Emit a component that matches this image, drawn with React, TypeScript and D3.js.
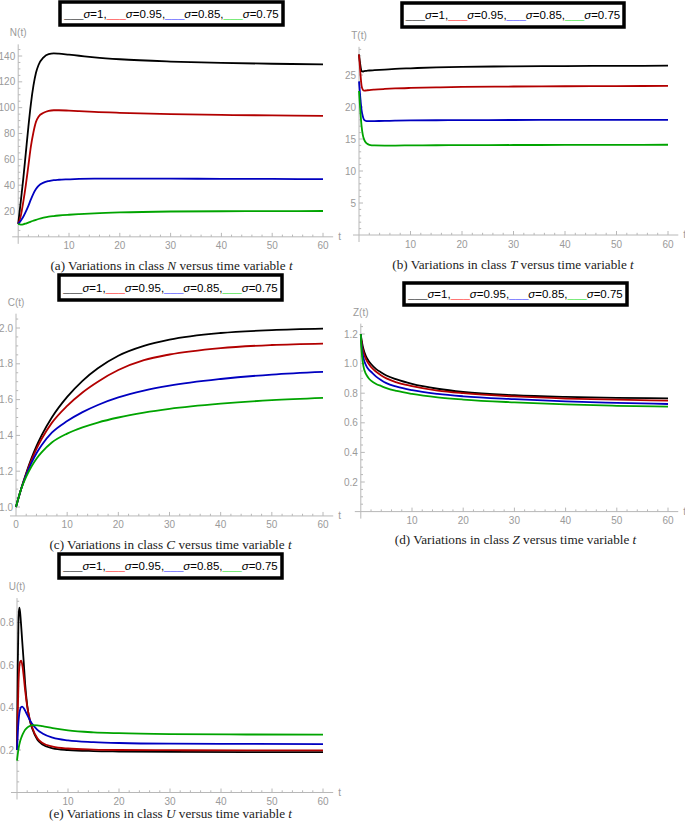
import React from 'react';
import * as d3 from 'd3';

const SIGMAS = ['1', '0.95', '0.85', '0.75'];
const LINE_COLORS = ['#000000', '#b20000', '#0000c0', '#00a400'];
const LEGEND_COLORS = ['#4a4a4a', '#ff5050', '#6464ff', '#55e655'];
const X_MAJOR = [10, 20, 30, 40, 50, 60];

// (a) N(t)
const T_N = [0, 0.5, 1, 1.5, 2, 2.5, 3, 3.5, 4, 5, 6, 7, 8, 10, 12, 15, 20, 30, 40, 50, 60];
const N_1 = [10, 27, 45, 65, 85, 103, 117, 127, 133, 139, 141.5, 142, 141.8, 141, 140.2, 139, 137.5, 135.7, 134.6, 134, 133.5];
const N_095 = [10, 16, 27, 40, 55, 70, 81, 89, 93, 96, 97.5, 98, 98, 97.7, 97.3, 96.7, 96, 95, 94.4, 94, 93.7];
const N_085 = [10, 12.5, 15.5, 19.5, 24, 29, 33.5, 37, 39.5, 42, 43.2, 43.9, 44.2, 44.5, 44.8, 45, 45, 45, 44.9, 44.8, 44.7];
const N_075 = [10, 9.5, 9.7, 10.3, 11, 11.8, 12.5, 13.2, 13.8, 14.8, 15.6, 16.1, 16.5, 17.1, 17.6, 18.2, 18.9, 19.6, 19.8, 19.9, 20];
const N_TICKS = [20, 40, 60, 80, 100, 120, 140];

// (b) T(t)
const T_T = [0, 0.25, 0.5, 0.75, 1, 1.5, 2, 3, 5, 7, 10, 15, 20, 30, 40, 50, 60];
const TT_1 = [28.2, 26.6, 25.6, 25.55, 25.6, 25.65, 25.7, 25.75, 25.85, 25.95, 26.05, 26.2, 26.28, 26.35, 26.4, 26.43, 26.45];
const TT_095 = [28.2, 25.5, 23.3, 22.7, 22.55, 22.6, 22.65, 22.72, 22.82, 22.9, 22.98, 23.07, 23.13, 23.2, 23.24, 23.27, 23.3];
const TT_085 = [24.0, 21.5, 19.5, 18.5, 18.0, 17.8, 17.78, 17.8, 17.83, 17.86, 17.9, 17.93, 17.95, 17.97, 17.98, 17.99, 18.0];
const TT_075 = [22.5, 19.5, 17.0, 15.6, 14.9, 14.3, 14.1, 14.0, 13.98, 13.98, 14.0, 14.02, 14.04, 14.06, 14.07, 14.08, 14.1];
const T_TICKS = [5, 10, 15, 20, 25];

// (c) C(t)
const T_C = [0, 1, 2, 3, 4, 5, 7, 10, 13, 16, 20, 25, 30, 40, 50, 60];
const C_1 = [1, 1.1, 1.19, 1.27, 1.34, 1.4, 1.5, 1.615, 1.705, 1.775, 1.845, 1.9, 1.935, 1.972, 1.988, 1.996];
const C_095 = [1, 1.1, 1.185, 1.26, 1.325, 1.38, 1.47, 1.565, 1.64, 1.7, 1.765, 1.82, 1.852, 1.888, 1.905, 1.913];
const C_085 = [1, 1.1, 1.18, 1.245, 1.3, 1.345, 1.415, 1.48, 1.53, 1.57, 1.612, 1.65, 1.678, 1.715, 1.74, 1.755];
const C_075 = [1, 1.1, 1.17, 1.225, 1.27, 1.305, 1.36, 1.41, 1.445, 1.472, 1.5, 1.527, 1.548, 1.577, 1.597, 1.61];
const C_TICKS = [1.0, 1.2, 1.4, 1.6, 1.8, 2.0];

// (d) Z(t)
const T_Z = [0, 0.1, 0.25, 0.5, 1, 1.5, 2, 3, 4, 5, 7, 10, 15, 20, 30, 40, 50, 60];
const Z_1 = [1.2, 1.17, 1.14, 1.1, 1.05, 1.02, 0.997, 0.963, 0.94, 0.92, 0.893, 0.863, 0.83, 0.808, 0.786, 0.775, 0.769, 0.765];
const Z_095 = [1.2, 1.16, 1.12, 1.08, 1.03, 1.0, 0.977, 0.945, 0.92, 0.9, 0.873, 0.848, 0.818, 0.8, 0.778, 0.764, 0.756, 0.75];
const Z_085 = [1.2, 1.14, 1.09, 1.04, 0.99, 0.962, 0.945, 0.912, 0.888, 0.868, 0.844, 0.82, 0.795, 0.779, 0.76, 0.745, 0.735, 0.727];
const Z_075 = [1.2, 1.12, 1.05, 0.985, 0.93, 0.903, 0.885, 0.862, 0.848, 0.834, 0.815, 0.795, 0.772, 0.757, 0.738, 0.724, 0.715, 0.709];
const Z_TICKS = [0.2, 0.4, 0.6, 0.8, 1.0, 1.2];

// (e) U(t)
const T_U = [0, 0.15, 0.3, 0.45, 0.6, 0.8, 1, 1.3, 1.6, 2, 2.5, 3, 4, 5, 7, 10, 15, 20, 30, 45, 60];
const U_1 = [0.2, 0.6, 0.82, 0.87, 0.85, 0.79, 0.72, 0.62, 0.51, 0.41, 0.34, 0.3, 0.248, 0.226, 0.208, 0.2, 0.195, 0.193, 0.191, 0.19, 0.19];
const U_095 = [0.2, 0.38, 0.52, 0.59, 0.615, 0.62, 0.605, 0.55, 0.48, 0.405, 0.345, 0.305, 0.255, 0.233, 0.216, 0.207, 0.202, 0.2, 0.199, 0.198, 0.198];
const U_085 = [0.2, 0.28, 0.335, 0.37, 0.39, 0.402, 0.404, 0.398, 0.385, 0.365, 0.342, 0.322, 0.295, 0.278, 0.258, 0.245, 0.237, 0.233, 0.23, 0.229, 0.228];
const U_075 = [0.15, 0.18, 0.205, 0.225, 0.24, 0.255, 0.268, 0.283, 0.295, 0.305, 0.313, 0.317, 0.316, 0.312, 0.303, 0.292, 0.283, 0.279, 0.275, 0.273, 0.272];
const U_TICKS = [0.2, 0.4, 0.6, 0.8];

type Cfg = {
  letter: string;
  cls: string;
  yLabel: string;
  t: number[];
  series: number[][];
  yTicks: number[];
  yFmt: (v: number) => string;
  yMinorStep: number;
  xd: [number, number];
  xr: [number, number];
  yd: [number, number];
  yr: [number, number];
  yAxisAt: number;
  yTop: number;
  showZero: boolean;
  legend: { x: number; y: number; w: number; h: number };
  captionY: number;
};

const f1 = (v: number) => v.toFixed(1);
const f0 = (v: number) => String(v);

const PANELS: Cfg[] = [
  {
    letter: 'a', cls: 'N', yLabel: 'N(t)', t: T_N, series: [N_1, N_095, N_085, N_075],
    yTicks: N_TICKS, yFmt: f0, yMinorStep: 5,
    xd: [10, 60], xr: [69, 323], yd: [20, 140], yr: [211, 56], yAxisAt: 0, yTop: 149,
    showZero: false, legend: { x: 60, y: 2, w: 223, h: 23 }, captionY: 270,
  },
  {
    letter: 'b', cls: 'T', yLabel: 'T(t)', t: T_T, series: [TT_1, TT_095, TT_085, TT_075],
    yTicks: T_TICKS, yFmt: f0, yMinorStep: 1,
    xd: [10, 60], xr: [410.5, 668], yd: [5, 25], yr: [203, 75], yAxisAt: 0, yTop: 29.4,
    showZero: false, legend: { x: 402, y: 3, w: 222, h: 24 }, captionY: 269,
  },
  {
    letter: 'c', cls: 'C', yLabel: 'C(t)', t: T_C, series: [C_1, C_095, C_085, C_075],
    yTicks: C_TICKS, yFmt: f1, yMinorStep: 0.05,
    xd: [0, 60], xr: [16, 323], yd: [1, 2], yr: [507, 328], yAxisAt: 0.95, yTop: 2.08,
    showZero: true, legend: { x: 59, y: 275, w: 223, h: 25 }, captionY: 549,
  },
  {
    letter: 'd', cls: 'Z', yLabel: 'Z(t)', t: T_Z, series: [Z_1, Z_095, Z_085, Z_075],
    yTicks: Z_TICKS, yFmt: f1, yMinorStep: 0.05,
    xd: [10, 60], xr: [412, 668], yd: [0.2, 1.2], yr: [482, 334], yAxisAt: 0, yTop: 1.27,
    showZero: false, legend: { x: 404, y: 283, w: 223, h: 22 }, captionY: 544,
  },
  {
    letter: 'e', cls: 'U', yLabel: 'U(t)', t: T_U, series: [U_1, U_095, U_085, U_075],
    yTicks: U_TICKS, yFmt: f1, yMinorStep: 0.05,
    xd: [10, 60], xr: [68, 323], yd: [0.2, 0.8], yr: [750, 622.5], yAxisAt: 0, yTop: 0.915,
    showZero: false, legend: { x: 59, y: 554, w: 223, h: 24 }, captionY: 818,
  },
];

const AXIS = '#b8b8b8';
const TICKTXT = '#9a9a9a';
const SANS = '"Liberation Sans", Arial, sans-serif';
const SERIF = '"Liberation Serif", "DejaVu Serif", serif';

function Legend({ l }: { l: Cfg['legend'] }) {
  return (
    <g>
      <rect x={l.x} y={l.y} width={l.w} height={l.h} fill="#fff" stroke="#000" strokeWidth={3.5} />
      <text x={l.x + l.w / 2} y={l.y + l.h / 2 + 4} textAnchor="middle" fontFamily={SANS} fontSize={11.5} fill="#000">
        {SIGMAS.map((s, i) => (
          <React.Fragment key={i}>
            <tspan fill={LEGEND_COLORS[i]}>___</tspan>
            <tspan fontStyle="italic">σ</tspan>
            <tspan>{`=${s}${i < 3 ? ',' : ''}`}</tspan>
          </React.Fragment>
        ))}
      </text>
    </g>
  );
}

function Panel({ c }: { c: Cfg }) {
  const x = d3.scaleLinear().domain(c.xd).range(c.xr);
  const y = d3.scaleLinear().domain(c.yd).range(c.yr);
  const ax = x(0);
  const ay = y(c.yAxisAt);
  const top = y(c.yTop);
  const right = x(62);
  const xMinor = d3.range(2, 61, 2).filter((v) => v % 10 !== 0);
  const yStart = Math.ceil(c.yAxisAt / c.yMinorStep - 1e-6) * c.yMinorStep;
  const yMinor = d3
    .range(Math.round(yStart / c.yMinorStep), Math.floor(c.yTop / c.yMinorStep + 1e-6) + 1)
    .map((k) => k * c.yMinorStep)
    .filter((v) => !c.yTicks.some((t) => Math.abs(t - v) < 1e-6) && v > c.yAxisAt + 1e-6);
  const xLabels = c.showZero ? [0, ...X_MAJOR] : X_MAJOR;
  const line = d3
    .line<number>()
    .x((_, i) => x(c.t[i]))
    .y((v) => y(v))
    .curve(d3.curveMonotoneX);
  const cx = c.legend.x + c.legend.w / 2;
  return (
    <g>
      <Legend l={c.legend} />
      <line x1={ax - 6} x2={right} y1={ay} y2={ay} stroke={AXIS} strokeWidth={1} />
      <line x1={ax} x2={ax} y1={ay + (c.showZero ? 0 : 7)} y2={top} stroke={AXIS} strokeWidth={1} />
      {X_MAJOR.map((v) => (
        <line key={'xM' + v} x1={x(v)} x2={x(v)} y1={ay} y2={ay - 4} stroke={AXIS} />
      ))}
      {xMinor.map((v) => (
        <line key={'xm' + v} x1={x(v)} x2={x(v)} y1={ay} y2={ay - 2.2} stroke={AXIS} />
      ))}
      {c.yTicks.map((v) => (
        <line key={'yM' + v} x1={ax} x2={ax + 4} y1={y(v)} y2={y(v)} stroke={AXIS} />
      ))}
      {yMinor.map((v) => (
        <line key={'ym' + v} x1={ax} x2={ax + 2.2} y1={y(v)} y2={y(v)} stroke={AXIS} />
      ))}
      {xLabels.map((v) => (
        <text key={'xl' + v} x={x(v)} y={ay + 12.5} textAnchor="middle" fontFamily={SANS} fontSize={10} fill={TICKTXT}>
          {v}
        </text>
      ))}
      {c.yTicks.map((v) => (
        <text key={'yl' + v} x={ax - 3} y={y(v) + 3.5} textAnchor="end" fontFamily={SANS} fontSize={10} fill={TICKTXT}>
          {c.yFmt(v)}
        </text>
      ))}
      <text x={ax} y={top - 8} textAnchor="middle" fontFamily={SANS} fontSize={10} fill={TICKTXT}>
        {c.yLabel}
      </text>
      <text x={right + 5} y={ay + 3} fontFamily={SANS} fontSize={10} fill={TICKTXT}>
        t
      </text>
      {c.series.map((s, i) => (
        <path key={'s' + i} d={line(s) || ''} fill="none" stroke={LINE_COLORS[i]} strokeWidth={1.8} />
      ))}
      <text x={cx} y={c.captionY} textAnchor="middle" fontFamily={SERIF} fontSize={13.2} fill="#222">
        {`(${c.letter}) Variations in class `}
        <tspan fontStyle="italic">{c.cls}</tspan>
        {' versus time variable '}
        <tspan fontStyle="italic">t</tspan>
      </text>
    </g>
  );
}

export default function App() {
  return (
    <svg
      width={685}
      height={827}
      style={{ position: 'absolute', left: 0, top: 0, background: '#fff' }}
    >
      <rect x={0} y={0} width={685} height={827} fill="#fff" />
      {PANELS.map((c) => (
        <Panel key={c.letter} c={c} />
      ))}
    </svg>
  );
}
